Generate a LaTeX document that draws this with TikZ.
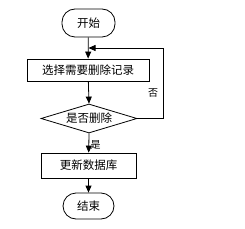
\documentclass[tikz,border=0pt]{standalone}
\usepackage{fontspec}
\setmainfont{Noto Sans CJK SC}
\usetikzlibrary{shapes.geometric,arrows.meta}
\begin{document}
\begin{tikzpicture}[x=1pt,y=-1pt,
  line width=0.8pt,
  every node/.style={font=\fontsize{11.5}{12}\selectfont, inner sep=0pt},
  term/.style={draw, rounded corners=13pt, minimum width=53pt, minimum height=28pt},
  proc/.style={draw, minimum width=122pt, minimum height=22pt},
  proc2/.style={draw, minimum width=95pt, minimum height=25pt},
  dec/.style={draw, diamond, aspect=3.3, minimum width=96pt, minimum height=29pt},
  arr/.style={-{Triangle[length=7pt,width=6pt]}},
  lab/.style={font=\fontsize{10}{10}\selectfont}]
\useasboundingbox (0,0) rectangle (245,229);
\node[term] (start) at (88.5,23) {开始};
\node[proc] (sel) at (88,70) {选择需要删除记录};
\node[draw, shape=diamond, aspect=3.3, inner sep=0pt, minimum width=96pt, minimum height=29pt] (dia) at (89,118.5) {};
\node at (89,118.5) {是否删除};
\node[proc2] (upd) at (88.5,165.5) {更新数据库};
\node[term, minimum width=51pt, minimum height=26pt] (end) at (88.5,206) {结束};
\coordinate (j) at (88.5,48);
\coordinate (r1) at (163,118.5);
\coordinate (r2) at (163,48);
\draw[arr] (start) -- (sel);
\draw[arr] (sel) -- (dia.north);
\draw[arr] (dia.south) -- (upd);
\draw[arr] (upd) -- (end);
\draw[arr] (dia.east) -- (r1) -- (r2) -- (j);
\node[lab] (no) at (153,93) {否};
\node[lab] (yes) at (95.5,144.5) {是};
\end{tikzpicture}
\end{document}
